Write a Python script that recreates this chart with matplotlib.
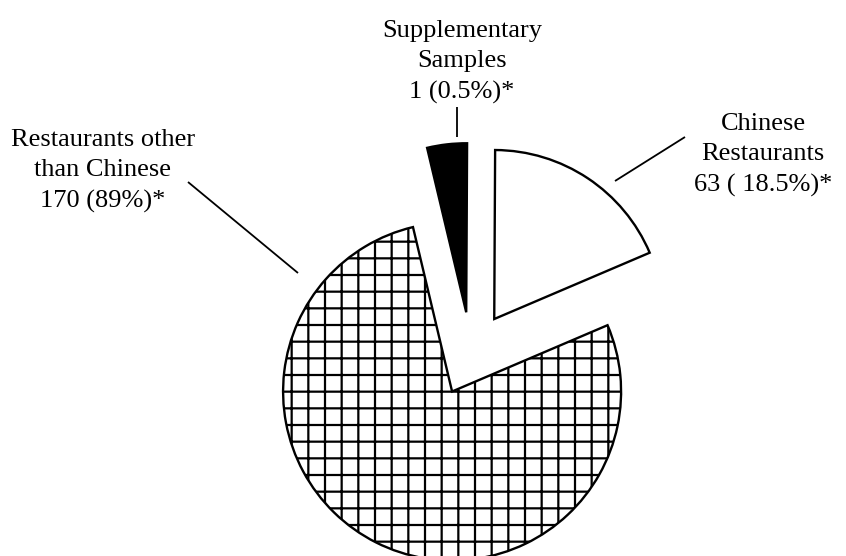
import matplotlib
matplotlib.use("Agg")
import matplotlib.pyplot as plt

# Sample sources
categories = ["Chinese\nRestaurants", "Supplementary\nSamples", "Restaurants other\nthan Chinese"]
counts = [63, 1, 170]
count_labels = ["63 ( 18.5%)*", "1 (0.5%)*", "170 (89%)*"]
# Share of the pie given to each wedge (percent)
shares = [18.5, 3.8, 77.7]

W, H = 846, 556
plt.rcParams["hatch.linewidth"] = 1.6
plt.rcParams["hatch.color"] = "black"

fig = plt.figure(figsize=(W / 100, H / 100), dpi=100)
ax = fig.add_axes([0, 0, 1, 1])

radius = 169
center = (471, H - 354)
gap = 42  # distance each wedge is pulled out from the centre (data units)
wedges, _ = ax.pie(
    shares,
    center=center,
    radius=radius,
    explode=[gap, gap, gap],
    startangle=23.1,
    counterclock=True,
    colors=["white", "black", "white"],
    wedgeprops=dict(edgecolor="black", linewidth=1.7),
)
wedges[2].set_hatch("+")

ax.set_xlim(0, W)
ax.set_ylim(0, H)
ax.set_aspect("equal")
ax.axis("off")

font = dict(family="Liberation Serif", fontsize=19, ha="center", va="center",
            linespacing=1.5, color="black")

# label text blocks (name + count line) and their leader lines
label_pos = [(763, 155), (462, 62), (103, 171)]
leaders = [((615, 181), (685, 137)), ((457, 137), (457, 107)), ((298, 273), (188, 182))]
for name, cl, (lx, ly), (p0, p1) in zip(categories, count_labels, label_pos, leaders):
    ax.text(lx, H - ly, name + "\n" + cl, **font)
    ax.plot([p0[0], p1[0]], [H - p0[1], H - p1[1]], color="black", lw=1.3,
            solid_capstyle="butt")

fig.savefig("out.png", dpi=100, facecolor="white")
